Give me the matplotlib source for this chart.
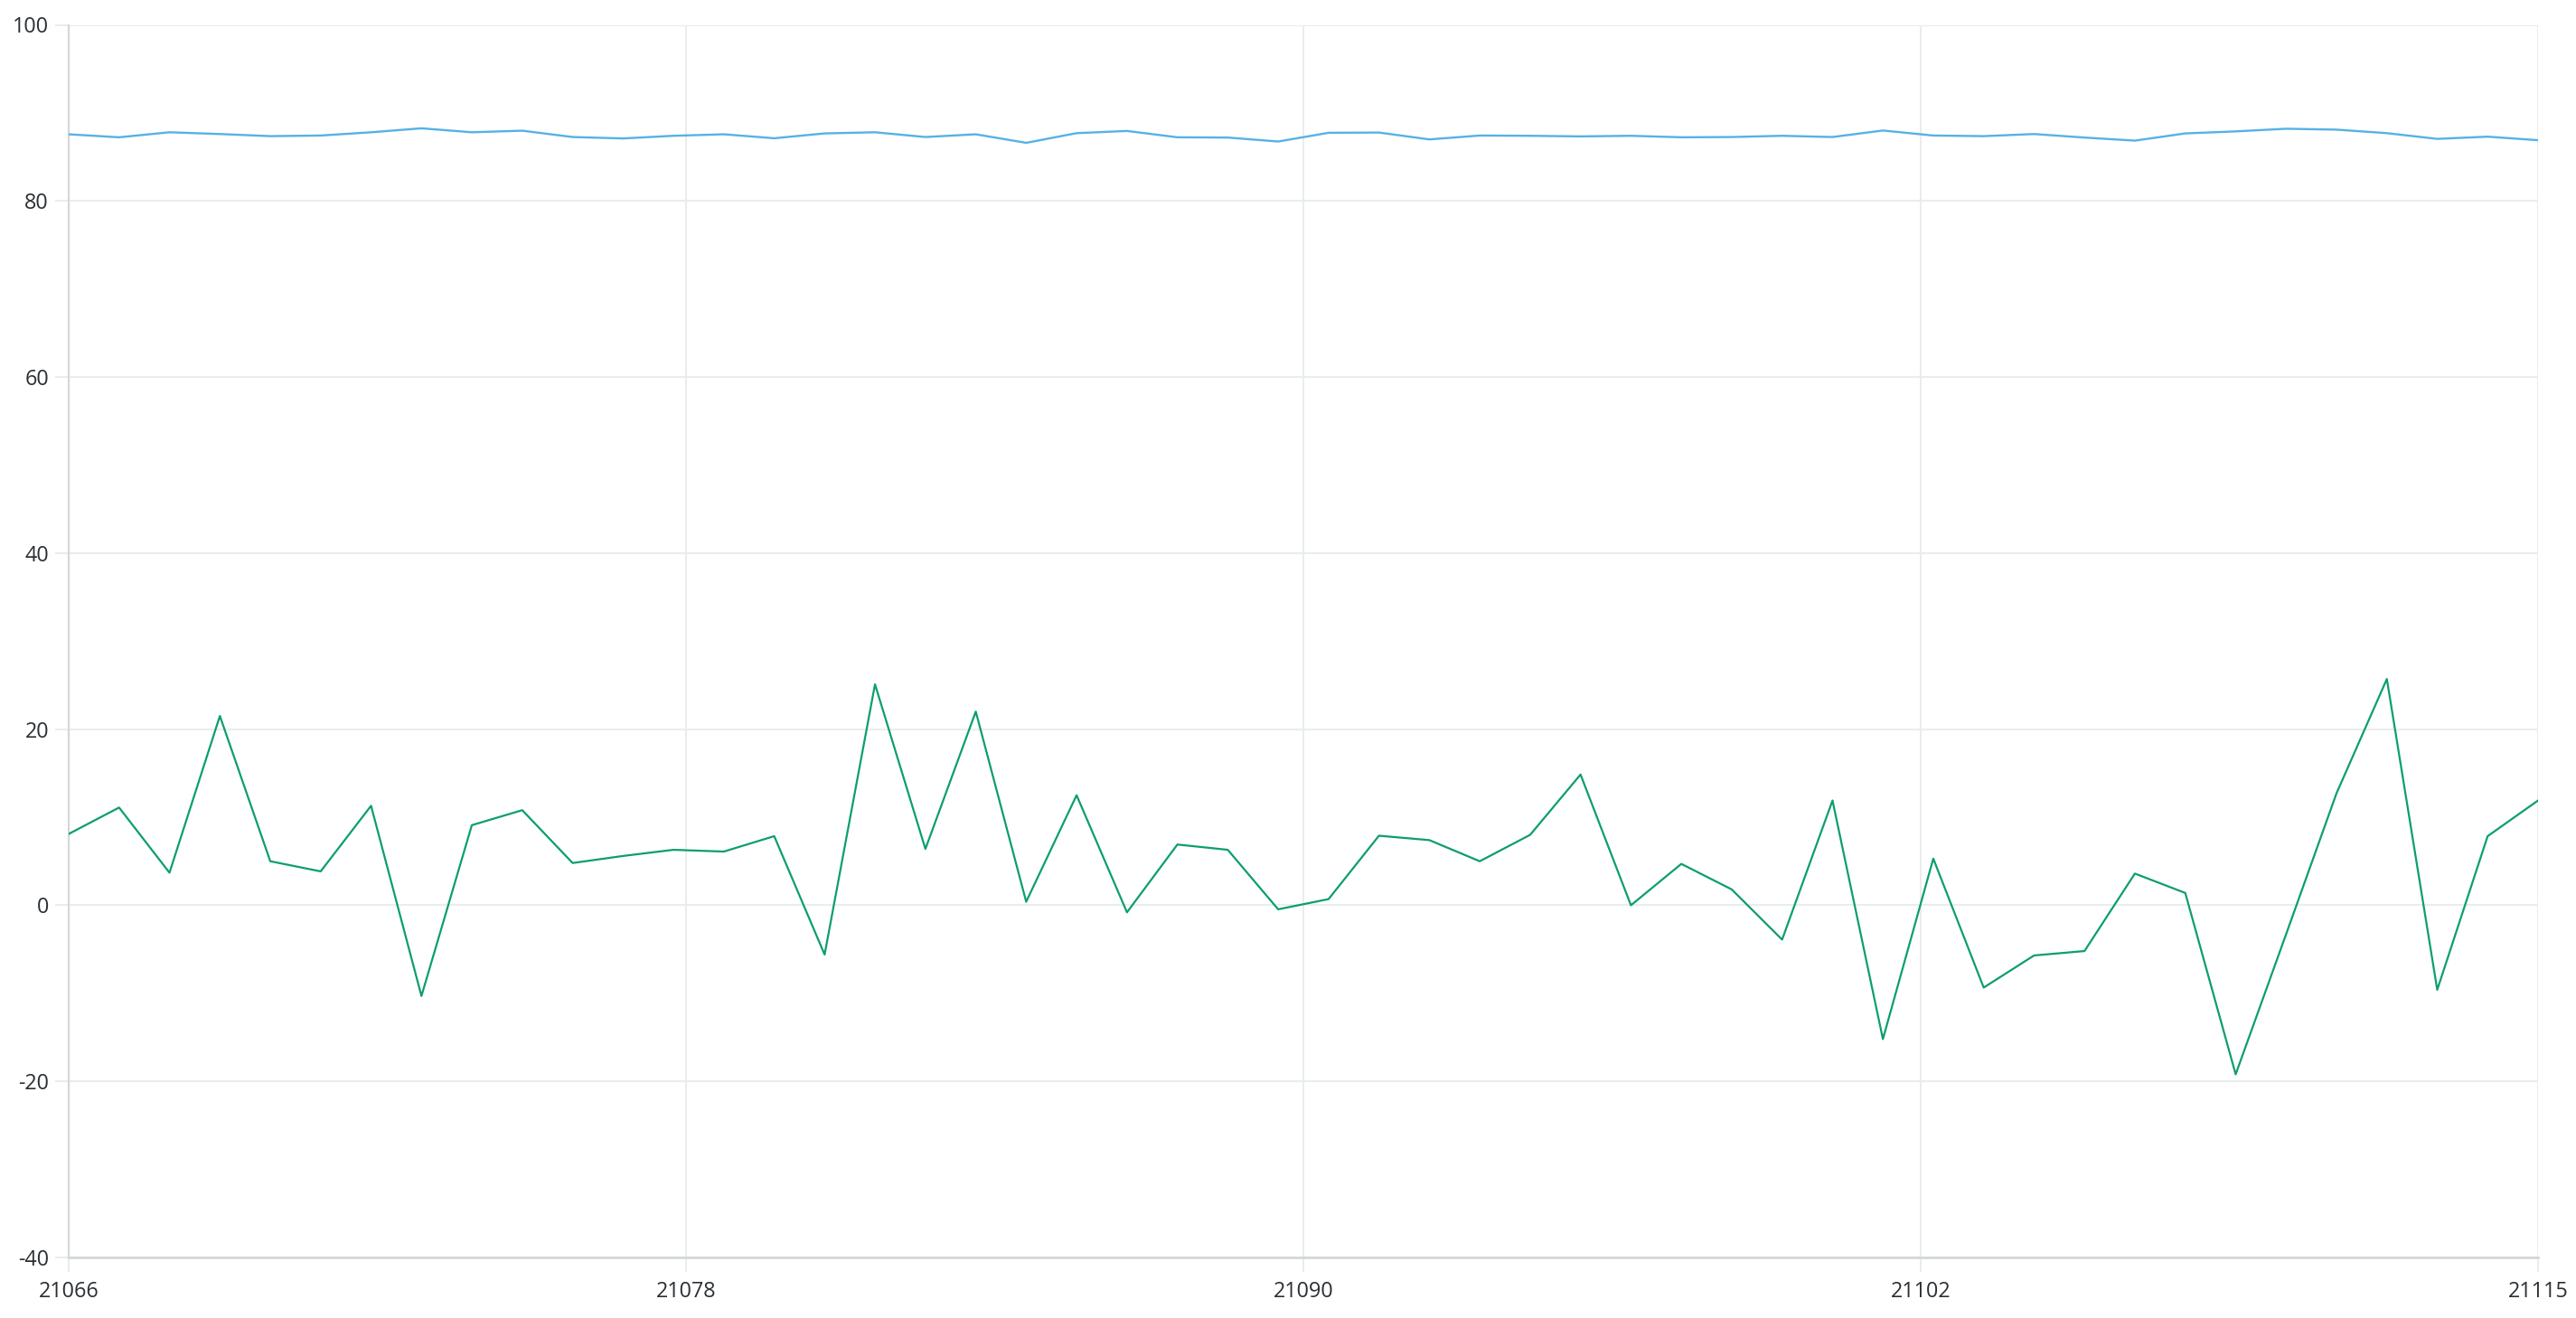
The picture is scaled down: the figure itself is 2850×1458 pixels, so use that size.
import numpy as np
import matplotlib
matplotlib.use("Agg")
import matplotlib.pyplot as plt

x_start = 21066
x_end = 21115
x_values = list(range(x_start, x_end + 1))

series_blue = [87.57, 87.23, 87.8, 87.6, 87.36, 87.43, 87.8, 88.25, 87.8, 87.98,
               87.26, 87.1, 87.4, 87.57, 87.12, 87.67, 87.8, 87.26, 87.57, 86.6,
               87.7, 87.95, 87.23, 87.2, 86.75, 87.74, 87.77, 86.99, 87.43, 87.4,
               87.33, 87.4, 87.23, 87.26, 87.4, 87.26, 88.0, 87.43, 87.36, 87.6,
               87.2, 86.85, 87.67, 87.9, 88.2, 88.1, 87.7, 87.05, 87.3, 86.9]

series_green = [8.1, 11.1, 3.7, 21.5, 5.0, 3.85, 11.3, -10.3, 9.1, 10.8,
                4.8, 5.6, 6.3, 6.1, 7.85, -5.6, 25.1, 6.4, 22.0, 0.4,
                12.5, -0.8, 6.9, 6.3, -0.46, 0.7, 7.9, 7.4, 5.0, 8.0,
                14.85, 0.0, 4.7, 1.8, -3.9, 11.9, -15.2, 5.3, -9.35, -5.7,
                -5.2, 3.6, 1.4, -19.2, -3.3, 12.7, 25.7, -9.6, 7.85, 11.9]

y_ticks = [-40, -20, 0, 20, 40, 60, 80, 100]

plt.rcParams['font.family'] = ['Open Sans', 'DejaVu Sans']

fig = plt.figure(figsize=(28.5, 14.58), dpi=100)
ax = fig.add_axes([76 / 2850, 1 - 1391 / 1458, (2808 - 76) / 2850, (1391 - 27.5) / 1458])

grid_c = '#e9eded'
ax.plot(x_values, series_blue, color='#56b1e6', lw=1.7, zorder=3)
ax.plot(x_values, series_green, color='#0c9e6f', lw=1.6, zorder=3)

ax.set_xlim(x_start, x_end)
ax.set_ylim(-40, 100)

x_ticks = np.linspace(x_start, x_end, 5)
ax.set_xticks(x_ticks)
ax.set_xticklabels([str(int(np.floor(v))) for v in x_ticks])
ax.set_yticks(y_ticks)
ax.set_yticklabels([str(v) for v in y_ticks])

ax.set_axisbelow(True)
ax.grid(True, color=grid_c, lw=1.5)
for s in ['top', 'right']:
    ax.spines[s].set_visible(False)
ax.spines['left'].set_color('#d3d7d7')
ax.spines['left'].set_linewidth(1.5)
ax.spines['bottom'].set_color('#d0d4d4')
ax.spines['bottom'].set_linewidth(1.8)

ax.tick_params(axis='y', length=10.8, width=1.5, color=grid_c, pad=5,
               labelsize=16.8, labelcolor='#2b2f33')
ax.tick_params(axis='x', length=11.5, width=1.5, color=grid_c, pad=7,
               labelsize=16.8, labelcolor='#2b2f33')

fig.savefig('out.png', dpi=100, facecolor='white')
